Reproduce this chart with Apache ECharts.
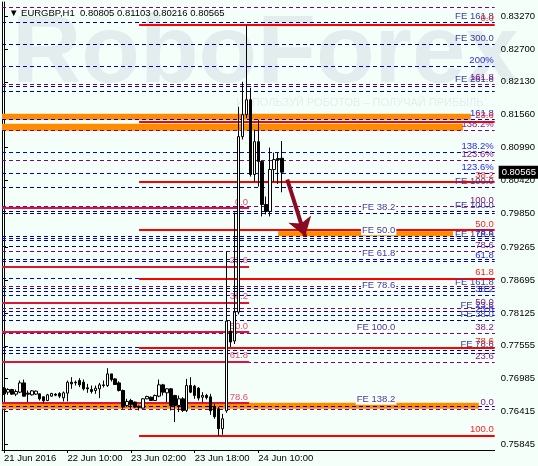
<!DOCTYPE html>
<html><head><meta charset="utf-8">
<script src="https://cdn.jsdelivr.net/npm/echarts@6/dist/echarts.min.js"></script>
<style>html,body{margin:0;padding:0;background:#f5fffa}#c{width:538px;height:466px}</style>
</head><body><div id="c"></div>
<script>
// ---------------- DATA ----------------
const chartTitle = '\u25BC EURGBP,H1  0.80805 0.81103 0.80216 0.80565';
const watermarkText = 'RoboForex';
const watermarkTagline = 'ИСПОЛЬЗУЙ РОБОТОВ – ПОЛУЧАЙ ПРИБЫЛЬ';

const xTickBars = [0, 16, 32, 48, 64];
const xTickLabels = ['21 Jun 2016', '22 Jun 10:00', '23 Jun 02:00', '23 Jun 18:00', '24 Jun 10:00'];
const yTickValues = [0.83270, 0.82700, 0.82130, 0.81560, 0.80990, 0.80420, 0.79850, 0.79265, 0.78695, 0.78125, 0.77555, 0.76985, 0.76415, 0.75845];
const lastPrice = 0.80565;

// H1 candles (bar index 0 = 21 Jun 18:00)
const candleOpen = [0.76821,0.76752,0.76798,0.76718,0.76752,0.76913,0.76735,0.76706,0.76718,0.76723,
  0.76672,0.76608,0.76683,0.76718,0.76729,0.76654,0.76735,0.76925,0.76913,0.76954,
  0.76925,0.76827,0.76798,0.76781,0.76810,0.76867,0.76867,0.77069,0.76982,0.76913,
  0.76781,0.76522,0.76608,0.76580,0.76505,0.76476,0.76637,0.76665,0.76608,0.76683,
  0.76879,0.76741,0.76810,0.76695,0.76522,0.76637,0.76436,0.76867,0.76856,0.76821,
  0.76665,0.76695,0.76671,0.76499,0.76464,0.76118,0.76429,0.77811,0.77639,0.78140,
  0.81180,0.81560,0.81819,0.80523,0.81093,0.80748,0.80005,0.79884,0.80610,0.80800,0.80805];
const candleHigh = [0.76839,0.76821,0.76810,0.76798,0.76954,0.76971,0.76781,0.76787,0.76781,0.76729,
  0.76677,0.76723,0.76741,0.76735,0.76752,0.76764,0.76954,0.77011,0.76954,0.76994,
  0.76971,0.76896,0.76867,0.76867,0.76913,0.76954,0.77167,0.77069,0.76994,0.76940,
  0.76798,0.76637,0.76637,0.76591,0.76522,0.76649,0.76690,0.76677,0.76710,0.76971,
  0.76896,0.76821,0.76821,0.76706,0.76695,0.76665,0.76982,0.77011,0.76879,0.76839,
  0.76752,0.76723,0.76723,0.76550,0.76499,0.76377,0.79193,0.77984,0.79867,0.81698,
  0.82130,0.83120,0.82026,0.81300,0.81473,0.80760,0.80143,0.80990,0.80903,0.80903,0.81103];
const candleLow = [0.76706,0.76706,0.76706,0.76683,0.76735,0.76677,0.76580,0.76695,0.76706,0.76608,
  0.76562,0.76597,0.76672,0.76683,0.76649,0.76591,0.76591,0.76810,0.76867,0.76839,
  0.76781,0.76741,0.76729,0.76723,0.76649,0.76833,0.76844,0.76936,0.76879,0.76764,
  0.76464,0.76493,0.76464,0.76476,0.76436,0.76470,0.76630,0.76600,0.76600,0.76665,
  0.76695,0.76580,0.76436,0.76234,0.76407,0.76407,0.76407,0.76735,0.76637,0.76608,
  0.76580,0.76626,0.76361,0.76291,0.75998,0.76015,0.76395,0.77535,0.77587,0.78100,
  0.81130,0.81500,0.80488,0.80402,0.80315,0.79798,0.79832,0.79798,0.80402,0.80360,0.80216];
const candleClose = [0.76723,0.76798,0.76718,0.76764,0.76913,0.76683,0.76718,0.76775,0.76770,0.76637,
  0.76603,0.76706,0.76729,0.76700,0.76683,0.76741,0.76925,0.76896,0.76925,0.76879,
  0.76810,0.76810,0.76764,0.76821,0.76879,0.76879,0.77069,0.76971,0.76885,0.76781,
  0.76493,0.76591,0.76540,0.76493,0.76490,0.76637,0.76677,0.76608,0.76695,0.76879,
  0.76752,0.76810,0.76522,0.76522,0.76637,0.76436,0.76867,0.76752,0.76695,0.76649,
  0.76695,0.76660,0.76430,0.76326,0.76118,0.76291,0.77984,0.77621,0.78140,0.81180,
  0.81560,0.81819,0.80523,0.81093,0.80748,0.80005,0.79884,0.80610,0.80782,0.80782,0.80565];

// Fibonacci retracement (red, solid) – from bar 34 to the right edge
const redFibPrices = [0.83120, 0.81440, 0.80400, 0.79560, 0.78720, 0.77524, 0.76000];
const redFibLabels = ['0.0', '23.6', '38.2', '50.0', '61.8', '78.6', '100.0'];
const redFibStartBar = 34;
// Fibonacci retracement (crimson, solid) – from the left edge to bar 61.7
const crimsonFibPrices = [0.79941, 0.78928, 0.78302, 0.77794, 0.77287, 0.76566];
const crimsonFibLabels = ['0.0', '23.6', '38.2', '50.0', '61.8', '78.6'];
const crimsonFibEndBar = 61.7;
// FE levels (navy dashed, full width, text at right edge)
const feRightPrices = [0.83166, 0.82786, 0.82061, 0.81974, 0.80299, 0.79884, 0.79383, 0.79280, 0.78554, 0.78157, 0.78001, 0.77483, 0.77431];
const feRightLabels = ['FE 161.8', 'FE 300.0', 'FE 261.8', '', 'FE 100.0', 'FE 100.0', 'FE 178.6', '', 'FE 161.8', 'FE 23.6', 'FE 38.0', 'FE 78.6', ''];
// FE levels (navy dashed, text in the middle at bar 99)
const feMidPrices = [0.79850, 0.79452, 0.79055, 0.78502, 0.77777, 0.76516];
const feMidLabels = ['FE 38.2', 'FE 50.0', 'FE 61.8', 'FE 78.6', 'FE 100.0', 'FE 138.2'];
const feMidLabelBar = 99;
// blue dashed levels
const bluePrices = [0.82406, 0.81473, 0.80903, 0.80541, 0.79970, 0.79418, 0.79020, 0.78727, 0.78433, 0.78088, 0.77535];
const blueLabels = ['200%', '161.8', '138.2%', '123.6%', '', '78.6', '61.8', '', '38.2', '23.6', ''];
// purple dashed levels
const purplePrices = [0.83425, 0.82095, 0.81283, 0.80765, 0.79970, 0.79193, 0.78589, 0.78209, 0.77777, 0.77276, 0.76464];
const purpleLabels = ['', '161.8', '138.2%', '123.6%', '100.0', '78.6', '', '50.0', '38.2', '23.6', '0.0'];
// orange zones: [fromBar, toBar, priceTop, priceBottom]
const zoneFromBar = [-0.5, -0.5, 69, -0.5];
const zoneToBar = [117.5, 115.5, 113, 119.5];
const zoneTop = [0.81575, 0.81405, 0.79540, 0.76568];
const zoneBottom = [0.81473, 0.81283, 0.79452, 0.76464];
// forecast arrow [bar, price]
const arrowFrom = [71.3, 0.80437];
const arrowTo = [75.8, 0.79452];

// ---------------- CHART ----------------
const FONT = 'Liberation Sans';
const X_MIN = -0.5, X_MAX = 123.5;
const CLEAR = 'rgba(0,0,0,0)';
const candleData = candleOpen.map((o, i) => [i, o, candleClose[i], candleLow[i], candleHigh[i]]);

function lab(text, color, bg) {
  if (!text) return { show: false };
  return { show: true, formatter: text, position: 'insideEndTop', color: color, fontSize: 9.5,
    fontFamily: FONT, distance: 1, backgroundColor: bg || 'transparent', padding: bg ? [0, 1, 0, 1] : 0 };
}
function hLine(price, color, type, width, label, labelColor, from, to, bg) {
  const lineStyle = { color: color, type: type, width: width };
  const l = lab(label, labelColor, bg);
  if (from == null && to == null) return { yAxis: price, lineStyle: lineStyle, label: l };
  return [{ coord: [from == null ? X_MIN : from, price], lineStyle: lineStyle, label: l },
          { coord: [to == null ? X_MAX : to, price] }];
}
const DASH = [4, 3];
const NAVY = '#00008b', NAVY_TXT = '#3b3b9e', BLUE = '#0000dd', PURPLE = '#800080';

const lines = [];
feRightPrices.forEach((p, i) => lines.push(hLine(p, NAVY, DASH, 1, feRightLabels[i], NAVY_TXT)));
feMidPrices.forEach((p, i) => lines.push(hLine(p, NAVY, DASH, 1, '', null)));
bluePrices.forEach((p, i) => lines.push(hLine(p, BLUE, DASH, 1, blueLabels[i], '#2a2ae0')));
purplePrices.forEach((p, i) => lines.push(hLine(p, PURPLE, DASH, 1, purpleLabels[i], '#8a1a8a')));
crimsonFibPrices.forEach((p, i) => lines.push(hLine(p, '#dc143c', 'solid', 2, crimsonFibLabels[i], '#e8506e', X_MIN, crimsonFibEndBar)));
redFibPrices.forEach((p, i) => lines.push(hLine(p, '#ff0000', 'solid', 2, redFibLabels[i], '#ff2020', redFibStartBar, X_MAX)));
// mid-chart FE captions (white boxed) drawn last, over the bands
feMidPrices.forEach((p, i) => lines.push(hLine(p, CLEAR, 'solid', 1, feMidLabels[i], NAVY_TXT, X_MIN, feMidLabelBar, '#ffffff')));

const zones = zoneTop.map((t, i) => [{ coord: [zoneFromBar[i], t] }, { coord: [zoneToBar[i], zoneBottom[i]] }]);

const chart = echarts.init(document.getElementById('c'), null, { renderer: 'canvas' });
chart.setOption({
  animation: false,
  backgroundColor: '#f5fffa',
  textStyle: { fontFamily: FONT },
  title: { text: chartTitle, left: 4, top: 3, textStyle: { fontSize: 9.5, fontWeight: 'normal', color: '#000', fontFamily: FONT } },
  graphic: [
    { type: 'text', left: 12, top: 8, z: -10, silent: true,
      style: { text: watermarkText, font: 'bold 96px "Liberation Sans"', fill: '#e4edee' } },
    { type: 'text', left: 236, top: 97, z: -10, silent: true,
      style: { text: watermarkTagline, font: '11px "Liberation Sans"', fill: '#e4edee' } }
  ],
  grid: { left: 2, right: 42, top: 2, bottom: 16, containLabel: false },
  xAxis: {
    type: 'value', min: X_MIN, max: X_MAX,
    splitLine: { show: false },
    axisLine: { show: true, lineStyle: { color: '#000', width: 1 } },
    axisTick: { show: true, customValues: xTickBars, length: 3, lineStyle: { color: '#000' } },
    axisLabel: { show: true, customValues: xTickBars, align: 'left', margin: 3, fontSize: 9.5, color: '#000', fontFamily: FONT,
      formatter: v => { const k = xTickBars.indexOf(Math.round(v)); return k >= 0 ? xTickLabels[k] : ''; } }
  },
  yAxis: [{
    type: 'value', position: 'right', min: 0.7575, max: 0.83513, scale: true,
    splitLine: { show: false },
    axisLine: { show: true, lineStyle: { color: '#000', width: 1 } },
    axisTick: { show: true, customValues: yTickValues, length: 4, lineStyle: { color: '#000' } },
    axisLabel: { show: true, customValues: yTickValues, margin: 6, fontSize: 9.5, color: '#000', fontFamily: FONT,
      formatter: v => v.toFixed(5) }
  }, {
    type: 'value', position: 'left', min: 0.7575, max: 0.83513, scale: true,
    splitLine: { show: false }, axisTick: { show: false }, axisLabel: { show: false },
    axisLine: { show: true, lineStyle: { color: '#000', width: 1 } }
  }],
  series: [
    { type: 'line', data: [], z: 1, silent: true,
      markArea: { silent: true, itemStyle: { color: '#ff8c00' }, data: zones } },
    { type: 'line', data: [], z: 2, silent: true,
      markLine: { silent: true, precision: 5, symbol: ['none', 'none'], animation: false, data: lines } },
    { type: 'candlestick', data: candleData, encode: { x: 0, y: [1, 2, 3, 4] }, barWidth: 3, z: 5, silent: true,
      itemStyle: { color: '#ffffff', color0: '#000000', borderColor: '#000000', borderColor0: '#000000', borderWidth: 1 },
      markLine: { silent: true, precision: 5, animation: false, symbol: ['none', 'none'],
        data: [
          [{ coord: arrowFrom, symbol: 'none', lineStyle: { color: '#8a0a22', width: 4, type: 'solid' }, label: { show: false } },
           { coord: arrowTo, symbol: 'arrow', symbolSize: 18 }],
          { yAxis: lastPrice, lineStyle: { color: CLEAR },
            label: { show: true, position: 'end', distance: 4, formatter: lastPrice.toFixed(5), color: '#fff', backgroundColor: '#000',
              padding: [2, 3, 1, 3], fontSize: 9.5, fontFamily: FONT } }
        ] } }
  ]
});
</script></body></html>
